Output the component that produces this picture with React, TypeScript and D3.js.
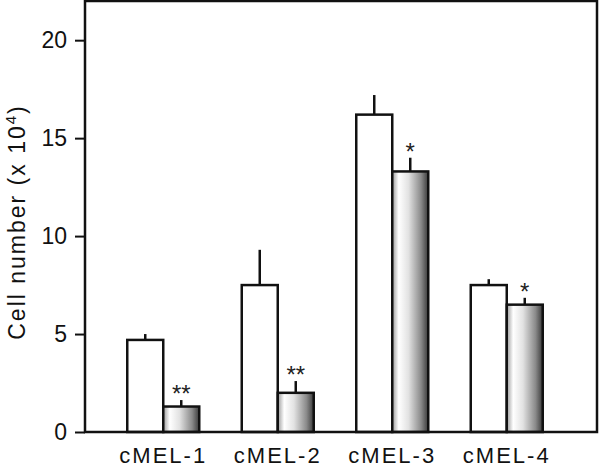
import React, { useRef, useEffect } from 'react';
import { select, scaleLinear, scaleBand, axisLeft } from 'd3';

const categories = ['cMEL-1', 'cMEL-2', 'cMEL-3', 'cMEL-4'];
const controlValues = [4.7, 7.5, 16.2, 7.5];
const controlErrors = [0.3, 1.8, 1.0, 0.3];
const treatedValues = [1.3, 2.0, 13.3, 6.5];
const treatedErrors = [0.33, 0.6, 0.7, 0.35];
const significance = ['**', '**', '*', '*'];
const yTicks = [0, 5, 10, 15, 20];

const WIDTH = 600;
const HEIGHT = 470;
const FONT = '"Liberation Sans", Arial, Helvetica, sans-serif';

const BarChart = () => {
  const svgRef = useRef<SVGSVGElement>(null);

  useEffect(() => {
    const svg = select(svgRef.current);
    svg.selectAll('*').remove();

    const left = 85;
    const right = 597;
    const top = 1;
    const bottom = 432;

    const yScale = scaleLinear().domain([0, 22]).range([bottom, top]);
    const xScale = scaleBand<string>()
      .domain(categories)
      .range([106, 564])
      .padding(0);
    const barWidth = 36;
    const center = (c: string) => (xScale(c) as number) + xScale.bandwidth() / 2;

    // cylinder-like shading for the treated bars
    const grad = svg
      .append('defs')
      .append('linearGradient')
      .attr('id', 'barShade')
      .attr('x1', '0%')
      .attr('x2', '100%');
    [
      ['0%', '#9a9a9a'],
      ['18%', '#ffffff'],
      ['45%', '#e2e2e2'],
      ['80%', '#8a8a8a'],
      ['100%', '#3a3a3a']
    ].forEach(([o, c]) => grad.append('stop').attr('offset', o).attr('stop-color', c));

    const g = svg.append('g');

    // bars + upper error bars
    const drawSeries = (
      values: number[],
      errors: number[],
      offset: number,
      fill: string
    ) => {
      g.selectAll(null)
        .data(values)
        .join('line')
        .attr('x1', (d, i) => center(categories[i]) + offset + barWidth / 2)
        .attr('x2', (d, i) => center(categories[i]) + offset + barWidth / 2)
        .attr('y1', d => yScale(d))
        .attr('y2', (d, i) => yScale(d + errors[i]))
        .attr('stroke', '#111')
        .attr('stroke-width', 2.5);

      g.selectAll(null)
        .data(values)
        .join('rect')
        .attr('x', (d, i) => center(categories[i]) + offset)
        .attr('y', d => yScale(d))
        .attr('width', barWidth)
        .attr('height', d => yScale(0) - yScale(d))
        .attr('fill', fill)
        .attr('stroke', '#111')
        .attr('stroke-width', 2.5);
    };

    drawSeries(controlValues, controlErrors, -barWidth, '#ffffff');
    drawSeries(treatedValues, treatedErrors, 0, 'url(#barShade)');

    // significance marks
    g.selectAll(null)
      .data(significance)
      .join('text')
      .attr('x', (d, i) => center(categories[i]) + barWidth / 2)
      .attr('y', (d, i) => yScale(treatedValues[i] + treatedErrors[i]) + 2)
      .attr('text-anchor', 'middle')
      .attr('font-family', FONT)
      .attr('font-size', 24)
      .attr('fill', '#222')
      .text(d => d);

    // frame
    svg
      .append('rect')
      .attr('x', left)
      .attr('y', top)
      .attr('width', right - left)
      .attr('height', bottom - top)
      .attr('fill', 'none')
      .attr('stroke', '#111')
      .attr('stroke-width', 2.5);

    // y axis
    const yAxis = svg
      .append('g')
      .attr('transform', `translate(${left},0)`)
      .call(axisLeft(yScale).tickValues(yTicks).tickSize(10).tickPadding(8));
    yAxis.select('.domain').remove();
    yAxis.selectAll('line').attr('stroke', '#111').attr('stroke-width', 2);
    yAxis
      .selectAll('text')
      .attr('font-family', FONT)
      .attr('font-size', 23)
      .attr('fill', '#111');

    // category labels
    svg
      .selectAll(null)
      .data(categories)
      .join('text')
      .attr('x', d => center(d))
      .attr('y', 463)
      .attr('text-anchor', 'middle')
      .attr('font-family', FONT)
      .attr('font-size', 22)
      .attr('letter-spacing', 2)
      .attr('fill', '#111')
      .text(d => d);

    // y label
    const yLabel = svg
      .append('text')
      .attr('transform', 'translate(25,222) rotate(-90)')
      .attr('text-anchor', 'middle')
      .attr('font-family', FONT)
      .attr('font-size', 23)
      .attr('letter-spacing', 2)
      .attr('fill', '#111');
    yLabel.append('tspan').text('Cell number (x 10');
    yLabel.append('tspan').attr('font-size', 15).attr('dy', -9).text('4');
    yLabel.append('tspan').attr('dy', 9).text(')');
  }, []);

  return (
    <svg
      ref={svgRef}
      width={WIDTH}
      height={HEIGHT}
      style={{ position: 'absolute', left: 0, top: 0, background: '#fff' }}
    />
  );
};

export default function App() {
  return <BarChart />;
}
